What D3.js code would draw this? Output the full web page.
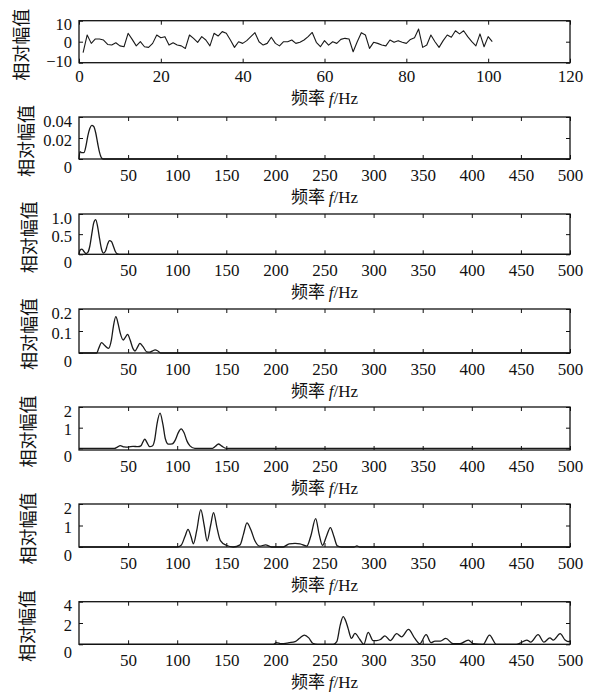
<!DOCTYPE html>
<html>
<head>
<meta charset="utf-8">
<script src="https://cdn.jsdelivr.net/npm/d3@7"></script>
<style>
  body { margin: 0; background: #fff; }
  text { fill: #111; }
</style>
</head>
<body>
<script>
// panel 1: time-like trace, one value per Hz starting at 1
var amp1 = [-5.2, 3.2, -0.8, 1.3, 1.3, 0.8, -1.3, -1.6, -0.5, -2,
            -2.4, 4, 1.1, -2, 0, -2.4, -2.7, -0.8, 3.2, 1.9,
            2.4, -1.6, -0.5, -1.6, -2, -3.2, 3.2, 1.6, -0.3, 2.4,
            0.8, -2, 4, 2.7, 4.8, 4, 0.8, -2.7, 0, -0.8,
            0.5, 2.4, 4.3, 0, -1.6, -0.8, 2.1, -0.8, -2, 0,
            0, 0.8, -0.8, -0.3, 0.8, 2.4, 4.4, -0.3, -2.4, 0.5,
            -1.6, 0, -0.8, 1.1, 1.6, 1.3, -4.8, 0, 4.3, 3.2,
            -3.2, -0.3, -0.8, -1.6, -2, 0.8, -0.3, 0.5, -0.3, -0.8,
            1.1, 1.9, 6, -2.7, -1.6, 3.2, 0, -2.7, 0.5, 3.2,
            2.1, 5.2, 3.7, 5.2, 2.4, 0, -2, 3.7, -2.4, 2.4, 0];

var freq2 = [0, 1, 3, 5, 7, 9, 11, 13, 15, 17, 19, 21, 23, 25, 500];
var amp2  = [0, 0.007, 0.006, 0.006, 0.012, 0.022, 0.029, 0.032, 0.031, 0.025, 0.015, 0.006, 0.001, 0, 0];

var freq3 = [0, 1, 3, 5, 7, 9, 11, 13, 15, 17, 19, 21, 23, 25, 27, 29, 31, 33, 35, 37, 39, 41, 500];
var amp3  = [0, 0.10, 0.13, 0.07, 0.02, 0.05, 0.20, 0.50, 0.78, 0.86, 0.68, 0.38, 0.12, 0.03, 0.08, 0.24, 0.34, 0.32, 0.2, 0.07, 0.01, 0, 0];

var freq4 = [0, 18, 20, 23, 26, 30, 33, 35, 37.5, 40, 42, 45, 47, 49.5, 52, 55, 57, 60, 62, 65, 69, 72, 75, 77.5, 80, 83, 500];
var amp4  = [0, 0, 0.02, 0.047, 0.035, 0.021, 0.06, 0.12, 0.165, 0.13, 0.09, 0.059, 0.07, 0.085, 0.06, 0.02, 0.009, 0.03, 0.044, 0.03, 0.005, 0.004, 0.01, 0.014, 0.01, 0, 0];

var freq5 = [0, 36, 39, 42, 46, 50, 55, 60, 63, 65, 67, 69, 72, 75, 77, 79.5, 82.5, 85.5, 88, 91, 95, 98, 101, 104, 107, 110, 113, 118, 136, 139, 142, 145, 150, 500];
var amp5  = [0, 0, 0.06, 0.13, 0.07, 0.06, 0.1, 0.08, 0.12, 0.3, 0.45, 0.3, 0.08, 0.13, 0.4, 1.2, 1.7, 1.15, 0.45, 0.2, 0.22, 0.4, 0.75, 0.94, 0.75, 0.35, 0.12, 0, 0, 0.1, 0.21, 0.12, 0, 0];

var freq6 = [0, 100, 104, 108, 111, 114, 116.5, 120, 124, 127.5, 130.5, 134, 137, 140.5, 144, 150, 157, 164, 167.5, 171, 175, 179, 184, 190, 196, 208, 214, 220, 225, 232, 236, 241, 244.5, 248, 252, 256, 259.5, 263, 267, 280, 283, 286, 500];
var amp6  = [0, 0, 0.08, 0.5, 0.82, 0.5, 0.15, 0.8, 1.74, 1.0, 0.28, 1.0, 1.6, 0.9, 0.3, 0.08, 0, 0.1, 0.6, 1.12, 0.8, 0.3, 0.04, 0.1, 0, 0, 0.15, 0.17, 0.15, 0.04, 0.5, 1.32, 0.6, 0.08, 0.5, 0.9, 0.5, 0.05, 0, 0, 0.05, 0, 0];

var freq7 = [0, 198, 201, 206, 214, 220, 225, 229.5, 234, 238, 243, 259, 262.5, 266, 269, 272, 274, 277.5, 281, 286, 290, 294.5, 299.5, 303, 307, 311.5, 317, 323.5, 328.5, 335.5, 342, 347, 353.5, 358.5, 362.5, 368, 373.5, 381, 388, 396.5, 401.5, 411.5, 418, 425, 445.5, 449, 456, 460, 467.5, 473.5, 479.5, 483, 490, 495, 498, 500];
var amp7  = [0, 0, 0.15, 0.05, 0.15, 0.25, 0.6, 0.87, 0.6, 0.1, 0, 0, 0.25, 1.8, 2.6, 2.1, 1.5, 0.55, 1.03, 0.45, 0, 1.12, 0.35, 0.35, 0.45, 0.8, 0.35, 1.0, 0.7, 1.4, 0.55, 0.05, 0.9, 0.15, 0.3, 0.3, 0.55, 0.05, 0.05, 0.4, 0.05, 0, 0.87, 0, 0, 0.1, 0.4, 0.2, 0.9, 0.2, 0.6, 0.4, 1.0, 0.4, 0.25, 0.3];

var xTicks1 = [0, 20, 40, 60, 80, 100, 120];
var xTicksHz = [50, 100, 150, 200, 250, 300, 350, 400, 450, 500];

var yTicks = [[-10, 0, 10], [0, 0.02, 0.04], [0, 0.5, 1], [0, 0.1, 0.2], [0, 1, 2], [0, 1, 2], [0, 2, 4]];
var yTickLabels = [["\u221210", "0", "10"], ["0", "0.02", "0.04"], ["0", "0.5", "1.0"], ["0", "0.1", "0.2"],
                   ["0", "1", "2"], ["0", "1", "2"], ["0", "2", "4"]];
var yLabel = "相对幅值";

var svg = d3.select("body").append("svg")
    .attr("width", 597)
    .attr("height", 696);

var left = 79, right = 570;
var tops = [20.7, 117, 214, 309, 407, 504, 601.7];
var bottoms = [62.7, 159, 254.3, 353, 450, 547, 644.3];
var yDomains = [[-10, 10], [0, 0.04], [0, 1], [0, 0.2], [-0.08, 2], [0, 2], [0, 4]];

var panels = [
  {x: amp1.map(function(d, i) { return i + 1; }), y: amp1, dom: [0, 120], ticks: xTicks1, curve: d3.curveLinear},
  {x: freq2, y: amp2, dom: [0, 500], ticks: xTicksHz, curve: d3.curveMonotoneX},
  {x: freq3, y: amp3, dom: [0, 500], ticks: xTicksHz, curve: d3.curveMonotoneX},
  {x: freq4, y: amp4, dom: [0, 500], ticks: xTicksHz, curve: d3.curveMonotoneX},
  {x: freq5, y: amp5, dom: [0, 500], ticks: xTicksHz, curve: d3.curveMonotoneX},
  {x: freq6, y: amp6, dom: [0, 500], ticks: xTicksHz, curve: d3.curveMonotoneX},
  {x: freq7, y: amp7, dom: [0, 500], ticks: xTicksHz, curve: d3.curveMonotoneX}
];

var serif = "'Liberation Serif', 'Times New Roman', serif";
var cjk = "'Noto Sans CJK SC', sans-serif";

panels.forEach(function(p, k) {
  var x = d3.scaleLinear().domain(p.dom).range([left, right]);
  var y = d3.scaleLinear().domain(yDomains[k]).range([bottoms[k], tops[k]]);
  var g = svg.append("g");

  // trace
  var pts = p.x.map(function(f, i) { return [f, p.y[i]]; });
  g.append("path")
    .datum(pts)
    .attr("fill", "none")
    .attr("stroke", "#1a1a1a")
    .attr("stroke-width", k == 0 ? 1.1 : 1.3)
    .attr("stroke-linejoin", "round")
    .attr("d", d3.line()
      .x(function(d) { return x(d[0]); })
      .y(function(d) { return y(d[1]); })
      .curve(p.curve));

  // bottom axis with labels
  var xa = g.append("g")
    .attr("transform", "translate(0," + bottoms[k] + ")")
    .call(d3.axisBottom(x).tickValues(p.ticks).tickSizeInner(-4).tickSizeOuter(0).tickPadding(k == 0 ? 7 : 10));
  // top ticks
  g.append("g")
    .attr("transform", "translate(0," + tops[k] + ")")
    .call(d3.axisTop(x).tickValues(p.ticks).tickSizeInner(-4).tickSizeOuter(0).tickFormat(""));

  var labs = yTickLabels[k];
  var ya = g.append("g")
    .attr("transform", "translate(" + left + ",0)")
    .call(d3.axisLeft(y).tickValues(yTicks[k]).tickSizeInner(-4).tickSizeOuter(0).tickPadding(7)
      .tickFormat(function(d, i) { return labs[i]; }));
  g.append("g")
    .attr("transform", "translate(" + right + ",0)")
    .call(d3.axisRight(y).tickValues(yTicks[k]).tickSizeInner(-4).tickSizeOuter(0).tickFormat(""));

  g.selectAll(".domain").remove();
  g.selectAll(".tick line").attr("stroke", "#111").attr("stroke-width", 1);
  xa.selectAll("text").style("font-family", serif).style("font-size", "17px").attr("fill", "#111");
  ya.selectAll("text").style("font-family", serif).style("font-size", "16.5px").attr("fill", "#111")
    .attr("dy", function(d, i) {
      if (k == 0) return [-1, 1, 4][i] + 5 + "px";
      return [8, 2, 4][i] + 5 + "px";
    });

  // box
  g.append("rect")
    .attr("x", left).attr("y", tops[k])
    .attr("width", right - left).attr("height", bottoms[k] - tops[k])
    .attr("fill", "none").attr("stroke", "#111").attr("stroke-width", 1.3);

  // x label
  var xl = g.append("text")
    .attr("x", (left + right) / 2)
    .attr("y", bottoms[k] + (k == 0 ? 41 : 44))
    .attr("text-anchor", "middle")
    .style("font-size", "17px");
  xl.append("tspan").style("font-family", cjk).text("频率 ");
  xl.append("tspan").style("font-family", serif).style("font-style", "italic").text("f");
  xl.append("tspan").style("font-family", serif).text("/Hz");

  // y label
  var cy = (tops[k] + bottoms[k]) / 2 + 3;
  var lx = [20, 25, 28, 28, 27, 27, 26][k];
  g.append("text")
    .attr("transform", "translate(" + lx + "," + cy + ") rotate(-90)")
    .attr("text-anchor", "middle")
    .attr("dominant-baseline", "central")
    .style("font-family", cjk)
    .style("font-size", "18px")
    .text(yLabel);
});
</script>
</body>
</html>
